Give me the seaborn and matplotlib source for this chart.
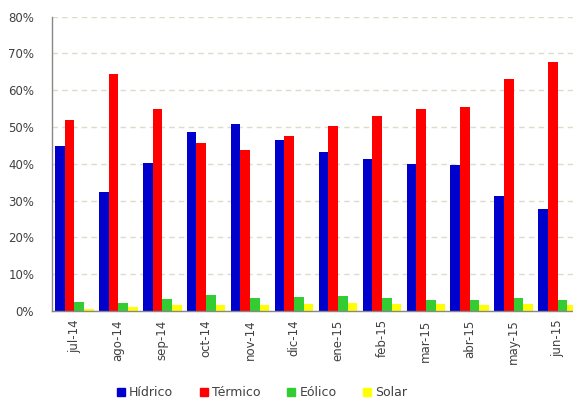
import matplotlib
matplotlib.use("Agg")
import matplotlib.pyplot as plt
import seaborn as sns
import pandas as pd
from matplotlib.ticker import FuncFormatter, MultipleLocator, FixedLocator
from matplotlib.lines import Line2D

months = ["jul-14", "ago-14", "sep-14", "oct-14", "nov-14", "dic-14",
          "ene-15", "feb-15", "mar-15", "abr-15", "may-15", "jun-15"]
hidrico = [44.9, 32.3, 40.3, 48.6, 50.9, 46.4, 43.3, 41.3, 40.0, 39.6, 31.2, 27.7]
termico = [51.9, 64.5, 54.9, 45.6, 43.8, 47.6, 50.4, 52.9, 54.9, 55.4, 63.2, 67.6]
eolico = [2.5, 2.3, 3.3, 4.3, 3.5, 3.8, 4.1, 3.5, 3.0, 3.0, 3.5, 3.0]
solar = [0.5, 1.1, 1.5, 1.5, 1.5, 2.0, 2.3, 2.0, 1.8, 1.5, 2.0, 1.5]
series_names = ["Hídrico", "Térmico", "Eólico", "Solar"]
colors = ["#0000CC", "#FF0000", "#33CC33", "#FFFF00"]

df = pd.DataFrame({"Mes": months, "Hídrico": hidrico, "Térmico": termico,
                   "Eólico": eolico, "Solar": solar})
long = df.melt(id_vars="Mes", var_name="Fuente", value_name="Valor")

sns.set_style("white")
plt.rcParams["font.family"] = ["DejaVu Sans"]

fig = plt.figure(figsize=(5.73, 4.0), dpi=100)
ax = fig.add_axes([52.3 / 573, 1 - 311 / 400, 527.4 / 573, 294.3 / 400])

sns.barplot(data=long, x="Mes", y="Valor", hue="Fuente", hue_order=series_names,
            order=months, palette=colors, width=0.88, gap=0, linewidth=0,
            saturation=1, ax=ax, legend=False)

ax.set_ylim(0, 80)
ax.set_xlim(-0.5, len(months) - 0.5)
ax.yaxis.set_major_locator(MultipleLocator(10))
ax.yaxis.set_major_formatter(FuncFormatter(lambda v, p: f"{int(round(v))}%"))
ax.set_xlabel("")
ax.set_ylabel("")

ax.grid(axis="y", color="#DDDBC9", linestyle=(0, (4, 3)), linewidth=1)
ax.set_axisbelow(True)

for s in ["top", "right"]:
    ax.spines[s].set_visible(False)
for s in ["left", "bottom"]:
    ax.spines[s].set_color("#888888")
    ax.spines[s].set_linewidth(1)

ax.tick_params(axis="y", which="major", direction="out", length=5, width=1,
               color="#888888", pad=8, labelsize=8.5, labelcolor="#404040")
ax.tick_params(axis="x", which="major", length=0, pad=6, labelsize=8.5,
               labelcolor="#404040", rotation=90)
ax.xaxis.set_minor_locator(FixedLocator([i - 0.5 for i in range(len(months) + 1)]))
ax.tick_params(axis="x", which="minor", direction="out", length=5, width=1,
               color="#888888")

handles = [Line2D([0], [0], marker="s", linestyle="none", markersize=6,
                  markerfacecolor=c, markeredgecolor=c) for c in colors]
fig.legend(handles, series_names, loc="center", ncol=4,
           bbox_to_anchor=(262 / 573, 1 - 393 / 400), frameon=False,
           fontsize=9, handlelength=0.7, handletextpad=0.3, columnspacing=2.1,
           labelcolor="#404040")

fig.savefig("out.png", dpi=100)
